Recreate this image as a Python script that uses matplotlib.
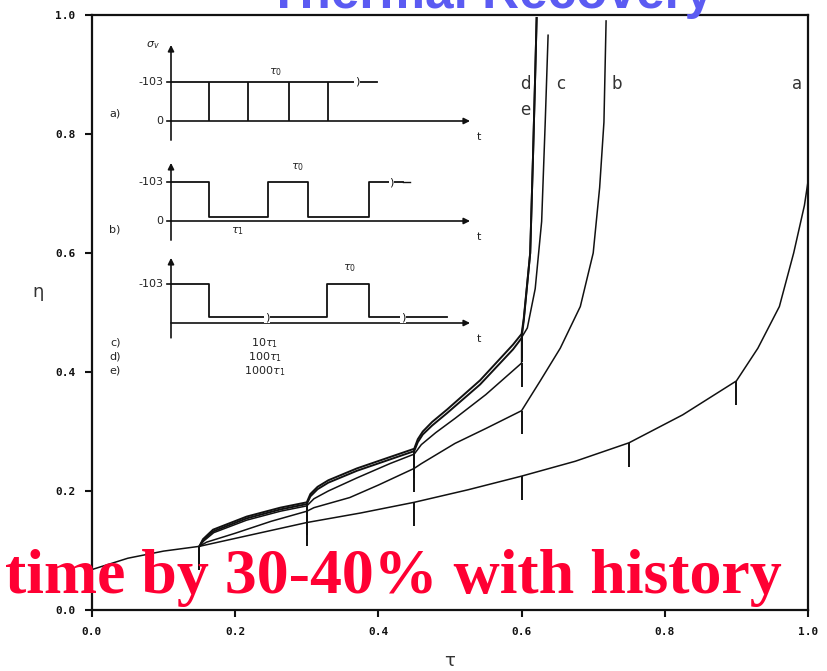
"""Damage fraction vs. life fraction under intermittent loading, redrawn from a scanned slide."""
import matplotlib
matplotlib.use("Agg")
import matplotlib.pyplot as plt

W, H = 827, 671

# main curves: life fraction tau -> damage eta
TAU_A = [0.0, 0.05, 0.10, 0.15, 0.225, 0.30, 0.375, 0.45, 0.525, 0.60, 0.675, 0.75, 0.825,
         0.90, 0.93, 0.96, 0.98, 0.995, 1.0, 1.0]
ETA_A = [0.068, 0.087, 0.099, 0.107, 0.127, 0.147, 0.163, 0.181, 0.202, 0.225, 0.250, 0.281, 0.328,
         0.385, 0.440, 0.510, 0.600, 0.680, 0.720, 1.0]
TAU_B = [0.15, 0.16, 0.20, 0.25, 0.30, 0.31, 0.36, 0.40, 0.45, 0.46, 0.507, 0.55, 0.60,
         0.626, 0.654, 0.682, 0.700, 0.709, 0.715, 0.718]
ETA_B = [0.107, 0.114, 0.129, 0.149, 0.166, 0.172, 0.189, 0.210, 0.238, 0.246, 0.280, 0.305, 0.335,
         0.385, 0.440, 0.510, 0.600, 0.710, 0.820, 0.990]
TAU_C = [0.15, 0.156, 0.17, 0.216, 0.263, 0.30, 0.31, 0.33, 0.37, 0.416, 0.45, 0.46, 0.48, 0.507,
         0.55, 0.60, 0.60, 0.608, 0.619, 0.628, 0.633, 0.637]
ETA_C = [0.107, 0.116, 0.130, 0.151, 0.166, 0.175, 0.187, 0.200, 0.222, 0.246, 0.262, 0.278, 0.298, 0.322,
         0.362, 0.415, 0.458, 0.474, 0.540, 0.653, 0.820, 0.966]
TAU_D = [0.15, 0.155, 0.169, 0.216, 0.263, 0.30, 0.305, 0.315, 0.33, 0.37, 0.416, 0.45, 0.455, 0.462,
         0.475, 0.496, 0.542, 0.588, 0.60, 0.603, 0.612, 0.616, 0.619, 0.621]
ETA_D = [0.107, 0.119, 0.135, 0.157, 0.172, 0.181, 0.195, 0.207, 0.218, 0.238, 0.257, 0.271, 0.287, 0.300,
         0.316, 0.337, 0.386, 0.446, 0.464, 0.490, 0.600, 0.765, 0.900, 0.995]
ETA_E = [0.107, 0.117, 0.132, 0.154, 0.169, 0.178, 0.191, 0.203, 0.214, 0.234, 0.253, 0.267, 0.282, 0.295,
         0.310, 0.331, 0.379, 0.438, 0.457, 0.486, 0.600, 0.765, 0.900, 0.995]

LOADS_A = [0.15, 0.30, 0.45, 0.60, 0.75, 0.90]
LOADS = [0.15, 0.30, 0.45, 0.60]
TICK_DEPTH = 0.04

CURVE_LABELS = ["a", "b", "c", "d", "e"]
LABEL_TAU = [0.985, 0.733, 0.655, 0.605, 0.605]
LABEL_ETA = [0.884, 0.884, 0.884, 0.884, 0.840]

X_TICKS = [0.0, 0.2, 0.4, 0.6, 0.8, 1.0]
Y_TICKS = [0.0, 0.2, 0.4, 0.6, 0.8, 1.0]

# inset schematic of the stress histories (time in tau0 units, stress as fraction of -103)
UNLOAD_A = [1.0, 2.03, 3.1, 4.13]
HOLD_A_END = 5.42
WAVE_B_T = [0.0, 1.0, 1.0, 2.55, 2.55, 3.6, 3.6, 5.2, 5.2, 6.1]
WAVE_B_S = [1, 1, 0.1, 0.1, 1, 1, 0.1, 0.1, 1, 1]
WAVE_C_T = [0.0, 1.0, 1.0, 4.1, 4.1, 5.2, 5.2, 7.25]
WAVE_C_S = [1, 1, 0.15, 0.15, 1, 1, 0.15, 0.15]
BREAKS_A = [(4.9, 1.0)]
BREAKS_B = [(5.8, 1.0)]
BREAKS_C = [(2.53, 0.15), (6.1, 0.15)]
CASES = ["c)", "d)", "e)"]
RATIOS = [r"10$\tau_1$", r"100$\tau_1$", r"1000$\tau_1$"]

INK = "#111111"
SMALL = dict(fontsize=8, color="#222222", family="DejaVu Sans")


def _panel(fig, y0, top_s):
    """Transparent axes whose data units put t=0, s=0 at pixel (171, y0)."""
    x0, ux, uy = 171, 38.0, 39.0
    left, right, top, bottom = 100, 500, y0 - uy * top_s - 12, y0 + 60
    ax = fig.add_axes([left / W, 1 - bottom / H, (right - left) / W, (bottom - top) / H])
    ax.set_xlim((left - x0) / ux, (right - x0) / ux)
    ax.set_ylim((y0 - bottom) / uy, (y0 - top) / uy)
    ax.axis("off")
    ax.patch.set_alpha(0)
    return ax


def _frame(ax, bottom_s, top_s, levels, zero_label=True):
    arrow = dict(arrowstyle="-|>", lw=1.2, color=INK, mutation_scale=9, shrinkA=0, shrinkB=0)
    ax.annotate("", xy=(0, top_s), xytext=(0, bottom_s), arrowprops=arrow)
    ax.annotate("", xy=(7.87, 0), xytext=(0, 0), arrowprops=arrow)
    ax.text(8.1, -0.4, "t", ha="center", va="center", **SMALL)
    ax.text(-0.2, 1.0, "-103", ha="right", va="center", **SMALL)
    if zero_label:
        ax.text(-0.2, 0.0, "0", ha="right", va="center", **SMALL)
    for s in levels:
        ax.plot([-0.1, 0], [s, s], color=INK, lw=1.2)


def _breaks(ax, points):
    for t, s in points:
        ax.text(t, s, ")", ha="center", va="center", fontsize=8, color=INK,
                bbox=dict(boxstyle="square,pad=0.05", fc="white", ec="none"))


def _draw_schematic(fig):
    ax = _panel(fig, 121, 2.1)
    _frame(ax, -0.49, 1.95, [1.0, 0.0])
    ax.plot([0, HOLD_A_END], [1, 1], color=INK, lw=1.3)
    ax.vlines(UNLOAD_A, 0, 1, color=INK, lw=1.3)
    _breaks(ax, BREAKS_A)
    ax.text(-0.3, 1.95, r"$\sigma_v$", ha="right", va="center", **SMALL)
    ax.text(2.74, 1.26, r"$\tau_0$", ha="center", va="center", **SMALL)
    ax.text(-1.47, 0.18, "a)", ha="center", va="center", **SMALL)

    ax = _panel(fig, 221, 1.6)
    _frame(ax, -0.49, 1.49, [1.0, 0.0])
    ax.plot(WAVE_B_T, WAVE_B_S, color=INK, lw=1.3)
    ax.plot([6.1, 6.3], [1, 1], color=INK, lw=1.0)
    _breaks(ax, BREAKS_B)
    ax.text(3.34, 1.38, r"$\tau_0$", ha="center", va="center", **SMALL)
    ax.text(1.76, -0.25, r"$\tau_1$", ha="center", va="center", **SMALL)
    ax.text(-1.47, -0.23, "b)", ha="center", va="center", **SMALL)

    ax = _panel(fig, 323, 1.8)
    _frame(ax, -0.38, 1.67, [1.0], zero_label=False)
    ax.plot(WAVE_C_T, WAVE_C_S, color=INK, lw=1.3)
    _breaks(ax, BREAKS_C)
    ax.text(4.71, 1.41, r"$\tau_0$", ha="center", va="center", **SMALL)
    for i, (case, ratio) in enumerate(zip(CASES, RATIOS)):
        ax.text(-1.47, -0.51 - 0.36 * i, case, ha="center", va="center", **SMALL)
        ax.text(2.47, -0.51 - 0.36 * i, ratio, ha="center", va="center", **SMALL)


def _draw_curves(ax):
    curves = [(TAU_A, ETA_A, LOADS_A, 1.1), (TAU_B, ETA_B, LOADS, 1.1), (TAU_C, ETA_C, LOADS, 1.1),
              (TAU_D, ETA_D, LOADS, 1.4), (TAU_D, ETA_E, LOADS, 1.4)]
    for tau, eta, loads, lw in curves:
        ax.plot(tau, eta, color=INK, lw=lw, solid_joinstyle="round", clip_on=False)
        tops = [eta[tau.index(t)] for t in loads]
        ax.vlines(loads, [v - TICK_DEPTH for v in tops], tops, color=INK, lw=1.4)
    for name, x, y in zip(CURVE_LABELS, LABEL_TAU, LABEL_ETA):
        ax.text(x, y, name, ha="center", va="center", fontsize=12, color="#333333", family="DejaVu Sans")


fig = plt.figure(figsize=(W / 100, H / 100), dpi=100)
ax = fig.add_axes([92 / W, 1 - 610 / H, 716 / W, 595 / H])
ax.set_xlim(0, 1)
ax.set_ylim(0, 1)
for spine in ax.spines.values():
    spine.set_linewidth(1.6)
    spine.set_color(INK)
ax.set_xticks(X_TICKS, [f"{v:.1f}" for v in X_TICKS])
ax.set_yticks(Y_TICKS, [f"{v:.1f}" for v in Y_TICKS])
ax.tick_params(direction="out", length=5, width=1.5, pad=7, colors=INK)
for label in ax.get_xticklabels() + ax.get_yticklabels():
    label.set_fontfamily("DejaVu Sans Mono")
    label.set_fontweight("bold")
    label.set_fontsize(8)
ax.set_xlabel("τ", fontsize=13, color="#333333", family="DejaVu Sans")
ax.set_ylabel("η", fontsize=13, color="#333333", family="DejaVu Sans", rotation=0)
ax.xaxis.set_label_coords(0.5, -0.07)
ax.yaxis.set_label_coords(-0.075, 0.52)
_draw_curves(ax)
_draw_schematic(fig)

fig.text(491 / W, 1 - 8 / H, "Thermal Recovery", ha="center", va="baseline", fontsize=37,
         fontweight="bold", family="Liberation Sans", color="#5B5BF2")
fig.text(5 / W, 1 - 593 / H, "time by 30-40% with history", ha="left", va="baseline", fontsize=46,
         fontweight="bold", family="Liberation Serif", color="#FF0033", zorder=10)

fig.savefig("out.png", dpi=100)
